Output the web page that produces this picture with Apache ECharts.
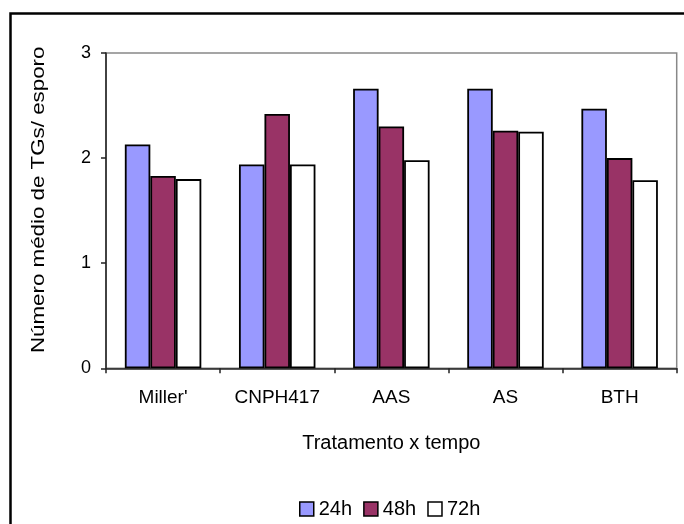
<!DOCTYPE html>
<html>
<head>
<meta charset="utf-8">
<script src="https://cdn.jsdelivr.net/npm/echarts@6/dist/echarts.min.js"></script>
<style>
html,body{margin:0;padding:0;background:#fff;}
#c{width:684px;height:524px;}
</style>
</head>
<body>
<div id="c"></div>
<script>
var categories = ["Miller'", "CNPH417", "AAS", "AS", "BTH"];
var seriesNames = ["24h", "48h", "72h"];
var v24 = [2.13, 1.94, 2.66, 2.66, 2.47];
var v48 = [1.83, 2.42, 2.30, 2.26, 2.00];
var v72 = [1.80, 1.94, 1.98, 2.25, 1.79];
var yTicks = [0, 1, 2, 3];
var yTitle = "Número médio de TGs/ esporo";
var xTitle = "Tratamento x tempo";

var FONT = "Liberation Sans, Arial, sans-serif";
var colors = ["#9999FF", "#993366", "#FFFFFF"];
var values = [v24, v48, v72];

var chart = echarts.init(document.getElementById('c'), null, {renderer: 'canvas'});

var series = seriesNames.map(function (n, i) {
  return {
    name: n,
    type: 'bar',
    data: values[i],
    barGap: '0%',
    barCategoryGap: '33%',
    itemStyle: {color: colors[i], borderColor: '#000', borderWidth: 1.8},
    emphasis: {disabled: true}
  };
});

chart.setOption({
  animation: false,
  backgroundColor: '#fff',
  textStyle: {fontFamily: FONT},
  grid: {
    left: 106, top: 53, right: 7.3, bottom: 155.7,
    show: true, borderColor: '#888', borderWidth: 1.5, backgroundColor: 'transparent'
  },
  legend: {
    data: seriesNames.map(function (n) { return {name: n, icon: 'rect'}; }),
    bottom: 0,
    left: 294,
    itemWidth: 14,
    itemHeight: 14,
    itemGap: 11,
    textStyle: {fontFamily: FONT, fontSize: 20, color: '#000'},
    itemStyle: {borderColor: '#000', borderWidth: 1.5}
  },
  xAxis: {
    type: 'category',
    data: categories,
    name: xTitle,
    nameLocation: 'middle',
    nameGap: 65,
    nameTextStyle: {fontFamily: FONT, fontSize: 20, color: '#000'},
    axisLine: {lineStyle: {color: '#222', width: 1.5}},
    axisTick: {show: true, length: 5, lineStyle: {color: '#222', width: 1.5}, alignWithLabel: false},
    axisLabel: {fontFamily: FONT, fontSize: 19, color: '#000', margin: 20}
  },
  yAxis: {
    type: 'value',
    min: yTicks[0],
    max: yTicks[yTicks.length - 1],
    interval: 1,
    axisLine: {show: true, lineStyle: {color: '#222', width: 1.5}},
    axisTick: {show: true, length: 5, lineStyle: {color: '#222', width: 1.5}},
    axisLabel: {fontFamily: FONT, fontSize: 18, color: '#000', margin: 15},
    splitLine: {show: false}
  },
  graphic: [
    {
      type: 'rect',
      shape: {x: 10.5, y: 13.5, width: 700, height: 540},
      style: {fill: 'none', stroke: '#000', lineWidth: 2.5},
      silent: true,
      z: 100
    },
    {
      type: 'text',
      x: 30,
      y: 353,
      rotation: Math.PI / 2,
      scaleX: 1.24,
      style: {
        text: yTitle,
        fontFamily: FONT,
        fontSize: 18,
        fill: '#000',
        align: 'left',
        verticalAlign: 'top'
      },
      silent: true
    }
  ],
  series: series
});
</script>
</body>
</html>
